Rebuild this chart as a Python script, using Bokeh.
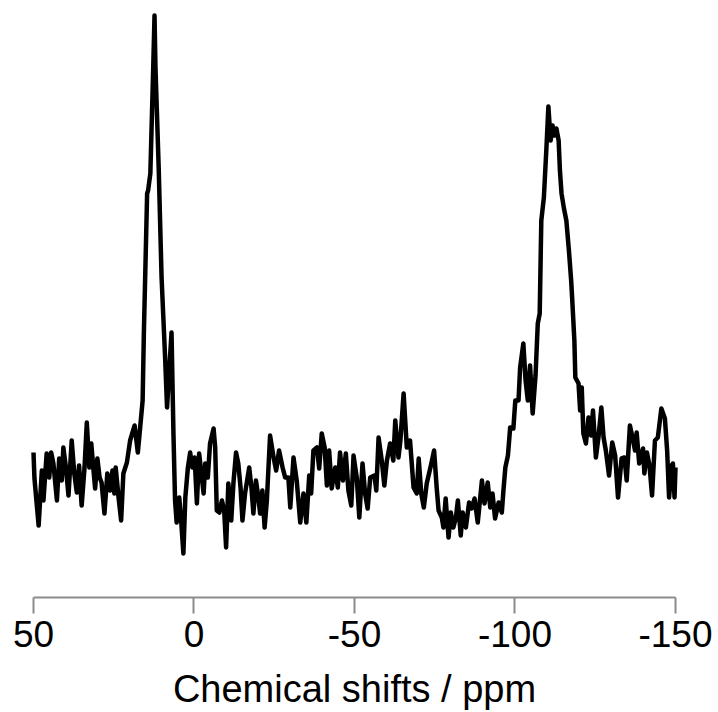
from bokeh.plotting import figure
from bokeh.models import Range1d, FixedTicker
from bokeh.embed import file_html
from bokeh.resources import INLINE

# Chemical shift (ppm) and intensity (arbitrary units)
shift_ppm = [
    50.0, 49.7, 48.4, 47.4, 46.9, 45.9, 45.1, 44.5, 43.8, 42.7, 42.0, 41.2, 40.7, 39.9,
    39.1, 38.1, 37.3, 36.5, 35.8, 35.0, 34.1, 33.4, 32.6, 32.0, 31.3, 30.8, 30.1, 29.4,
    28.8, 27.9, 27.0, 26.1, 25.4, 24.8, 24.4, 23.5, 22.7, 22.0, 20.9, 19.9, 18.5, 17.5,
    16.8, 16.0, 15.6, 14.6, 14.3, 13.6, 12.7, 12.3, 12.0, 11.0, 10.1, 9.0, 8.4, 7.0,
    6.4, 5.9, 5.4, 4.6, 4.0, 3.3, 2.7, 1.9, 1.2, 0.5, -0.2, -0.9, -1.6, -2.2, -3.0,
    -3.5, -4.3, -5.0, -6.1, -6.6, -7.1, -7.9, -8.7, -9.4, -10.0, -10.7, -11.6, -12.3,
    -13.1, -13.8, -14.5, -15.1, -15.9, -17.2, -17.9, -18.5, -19.3, -19.9, -20.6, -21.3,
    -22.0, -22.7, -23.7, -24.8, -25.6, -26.5, -27.6, -28.4, -29.4, -30.0, -31.0, -32.0,
    -33.1, -34.1, -35.0, -35.9, -36.5, -37.2, -38.3, -39.0, -39.8, -40.7, -41.4, -42.1,
    -42.9, -44.0, -44.8, -45.5, -46.4, -47.3, -48.1, -49.0, -49.7, -50.7, -51.5, -52.5,
    -53.3, -54.1, -54.9, -56.2, -56.8, -57.5, -58.5, -59.3, -60.1, -61.1, -62.1, -62.7,
    -63.7, -64.3, -65.3, -66.3, -67.3, -68.4, -69.4, -70.0, -70.8, -71.6, -72.5, -73.8,
    -74.8, -75.6, -76.2, -77.2, -77.7, -78.4, -79.3, -80.0, -80.8, -81.6, -82.2, -83.1,
    -83.7, -84.7, -85.7, -86.5, -87.4, -88.4, -89.7, -90.5, -91.5, -92.3, -93.0, -93.8,
    -94.9, -95.9, -96.4, -97.0, -97.8, -98.5, -99.5, -100.1, -101.1, -101.6, -102.6,
    -103.3, -104.0, -104.7, -105.5, -106.4, -107.1, -107.7, -108.2, -109.0, -109.8,
    -110.4, -111.1, -111.7, -112.3, -112.9, -113.6, -114.0, -114.5, -115.2, -116.0,
    -116.8, -117.5, -117.8, -118.5, -118.8, -119.8, -120.3, -120.8, -121.3, -122.1,
    -122.9, -123.7, -124.3, -125.2, -126.0, -126.9, -127.6, -128.3, -129.3, -130.3,
    -131.2, -132.1, -133.2, -134.1, -134.8, -135.8, -136.6, -137.4, -137.9, -138.7,
    -139.9, -140.3, -141.1, -141.9, -142.7, -143.6, -144.5, -145.6, -146.7, -147.4,
    -148.0, -148.8, -149.2, -149.7, -150.0,
]
intensity = [
    145, 119, 72, 127, 97, 144, 120, 145, 134, 97, 139, 117, 150, 130,
    102, 157, 124, 105, 132, 92, 130, 175, 130, 154, 127, 109, 139, 120,
    115, 84, 124, 107, 127, 104, 130, 100, 77, 124, 135, 157, 172, 145,
    169, 197, 267, 404, 407, 424, 530, 582, 530, 430, 320, 240, 190, 265,
    164, 97, 75, 100, 77, 44, 100, 130, 145, 130, 140, 94, 144, 127, 104,
    134, 120, 154, 169, 150, 87, 85, 97, 87, 50, 114, 77, 115,
    145, 134, 110, 77, 104, 130, 110, 84, 117, 104, 84, 107,
    70, 97, 162, 140, 127, 147, 130, 120, 120, 90, 140, 117,
    75, 104, 75, 122, 104, 147, 150, 129, 164, 150, 112, 147,
    109, 130, 110, 145, 117, 144, 107, 92, 142, 120, 80, 134,
    104, 89, 120, 122, 107, 160, 137, 112, 137, 154, 137, 177,
    140, 157, 204, 150, 157, 110, 104, 139, 104, 90, 114, 132,
    147, 110, 87, 80, 70, 99, 60, 85, 70, 80, 97, 62,
    85, 70, 95, 89, 99, 75, 117, 94, 115, 90, 104, 79,
    95, 85, 107, 130, 142, 170, 169, 197, 197, 230, 254,
    217, 197, 232, 184, 222, 274, 284, 377, 400, 450,
    491, 457, 472, 462, 469, 457, 427, 404, 390, 377,
    347, 317, 300, 257, 220, 214, 187, 210, 164, 154,
    180, 162, 187, 140, 160, 190, 160, 147, 122, 155,
    142, 100, 139, 140, 117, 172, 160, 147, 165, 134,
    149, 124, 145, 132, 102, 157, 160, 189, 179, 147,
    100, 132, 134, 100, 130,
]
x_ticks = [50, 0, -50, -100, -150]
x_tick_labels = ["50", "0", "-50", "-100", "-150"]
x_label = "Chemical shifts / ppm"

FONT = "Liberation Sans"

p = figure(
    width=718, height=712,
    x_range=Range1d(60.28, -163.40), y_range=Range1d(-115, 597),
    output_backend="svg", toolbar_location=None,
    y_axis_location=None,
    min_border_left=0, min_border_right=0, min_border_top=0, min_border_bottom=0,
)
p.outline_line_color = None
p.grid.visible = False
p.background_fill_color = "white"
p.border_fill_color = "white"

p.line(shift_ppm, intensity, line_color="black", line_width=4.5, line_join="round")

ax = p.xaxis[0]
ax.fixed_location = 0
ax.bounds = (-150, 50)
ax.ticker = FixedTicker(ticks=x_ticks)
ax.major_label_overrides = dict(zip(x_ticks, x_tick_labels))
ax.axis_line_color = "#8c8c8c"
ax.axis_line_width = 2
ax.major_tick_line_color = "#8c8c8c"
ax.major_tick_line_width = 2
ax.major_tick_out = 16
ax.major_tick_in = 0
ax.minor_tick_line_color = None
ax.major_label_text_font = FONT
ax.major_label_text_font_size = "37px"
ax.major_label_text_color = "black"
ax.major_label_standoff = 7
ax.axis_label = x_label
ax.axis_label_text_font = FONT
ax.axis_label_text_font_size = "38px"
ax.axis_label_text_font_style = "normal"
ax.axis_label_text_color = "black"
ax.axis_label_standoff = 18

open("out.html", "w").write(file_html(p, INLINE))
